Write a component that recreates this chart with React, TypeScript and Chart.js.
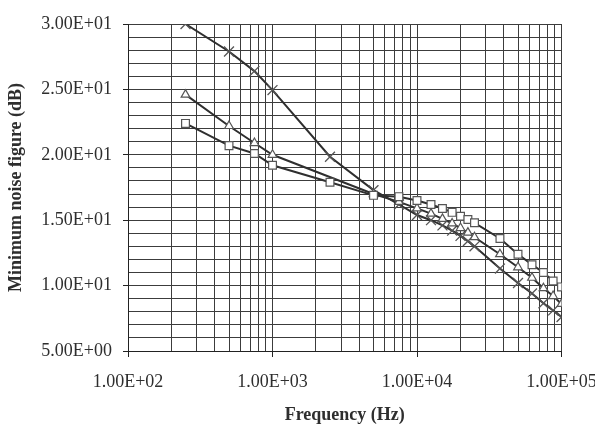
import React, { useEffect, useRef } from 'react';
import { Chart, registerables } from 'chart.js';

Chart.register(...registerables);

// Frequencies (Hz) at which the noise figure was sampled
const frequencies = [250, 500, 750, 1000, 2500, 5000, 7500, 10000, 12500, 15000, 17500, 20000, 22500, 25000, 37500, 50000, 62500, 75000, 87500, 100000];

// Minimum noise figure (dB) for each marker series
const squareNF = [22.4, 20.7, 20.1, 19.2, 17.9, 16.9, 16.8, 16.5, 16.2, 15.9, 15.6, 15.3, 15.05, 14.8, 13.6, 12.4, 11.6, 11.0, 10.35, 9.9];
const triangleNF: (number | null)[] = [24.6, 22.2, 20.9, 20.0, null, 17.0, 16.4, 15.9, 15.5, 15.1, 14.75, 14.4, 14.05, 13.7, 12.4, 11.4, 10.6, 9.8, 9.2, 8.6];
const crossNF = [30.0, 27.9, 26.4, 24.95, 19.85, 17.3, 16.2, 15.4, 15.0, 14.6, 14.2, 13.8, 13.4, 13.0, 11.3, 10.2, 9.4, 8.65, 8.1, 7.6];

// Axis ranges / tick positions
const xMin = 100;
const xMax = 100000;
const xDecades = [100, 1000, 10000];
const xMultipliers = [1, 2, 3, 4, 5, 6, 7, 8, 9];
const yMin = 5;
const yMax = 30;
const yLabelStep = 5;

const SERIF = "'Liberation Serif', 'Times New Roman', serif";
const TEXT = '#2e2e2e';
const GRID = '#3c3c3c';
const AXIS = '#222222';
const LINE = '#2f2f2f';
const MARK = '#555555';

function sci(v: number): string {
  const [m, e] = v.toExponential(2).split('e');
  const n = parseInt(e, 10);
  const sign = n < 0 ? '-' : '+';
  const abs = Math.abs(n);
  return `${m}E${sign}${abs < 10 ? '0' + abs : String(abs)}`;
}

function isPow10(v: number): boolean {
  const l = Math.log10(v);
  return Math.abs(l - Math.round(l)) < 1e-9;
}

const xTickValues: number[] = [];
xDecades.forEach((d) => xMultipliers.forEach((m) => xTickValues.push(d * m)));
xTickValues.push(xMax);

function toPoints(vals: (number | null)[]) {
  return frequencies
    .map((f, i) => ({ x: f, y: vals[i] }))
    .filter((p) => p.y !== null) as { x: number; y: number }[];
}

export default function App() {
  const ref = useRef<HTMLCanvasElement>(null);

  useEffect(() => {
    const canvas = ref.current;
    if (!canvas) return;
    const common = {
      borderColor: LINE,
      borderWidth: 2,
      pointBackgroundColor: '#ffffff',
      pointBorderColor: MARK,
      pointBorderWidth: 1.2,
      tension: 0,
      fill: false,
    };
    const chart = new Chart(canvas, {
      type: 'line',
      data: {
        datasets: [
          { ...common, label: 'square', data: toPoints(squareNF), pointStyle: 'rect', pointRadius: 5.5 },
          { ...common, label: 'triangle', data: toPoints(triangleNF), pointStyle: 'triangle', pointRadius: 5 },
          { ...common, label: 'cross', data: toPoints(crossNF), pointStyle: 'crossRot', pointRadius: 7, pointBorderWidth: 1.3 },
        ],
      },
      options: {
        responsive: false,
        animation: false,
        devicePixelRatio: 1,
        layout: { padding: { left: 0, top: 24, right: 33.5, bottom: 0 } },
        plugins: { legend: { display: false }, tooltip: { enabled: false } },
        scales: {
          x: {
            type: 'logarithmic',
            position: 'bottom',
            min: xMin,
            max: xMax,
            afterBuildTicks: (s: any) => {
              s.ticks = xTickValues.map((v) => ({ value: v, major: isPow10(v) }));
            },
            afterFit: (s: any) => {
              s.height = 75;
              s.paddingLeft = 0;
              s.paddingRight = 0;
            },
            ticks: {
              autoSkip: false,
              maxRotation: 0,
              minRotation: 0,
              padding: 14,
              color: TEXT,
              font: { family: SERIF, size: 18 },
              callback: (v: any) => (isPow10(Number(v)) ? sci(Number(v)) : ''),
            },
            grid: {
              color: GRID,
              lineWidth: 1,
              tickLength: 6,
              tickColor: (c: any) => (c.tick && isPow10(c.tick.value) ? AXIS : 'rgba(0,0,0,0)'),
            },
            border: { color: AXIS, width: 1 },
            title: {
              display: true,
              text: 'Frequency (Hz)',
              color: TEXT,
              font: { family: SERIF, size: 18, weight: 'bold' },
              padding: { top: 0, bottom: 0 },
            },
          },
          y: {
            type: 'linear',
            min: yMin,
            max: yMax,
            afterFit: (s: any) => {
              s.width = 128;
              s.paddingTop = 0;
              s.paddingBottom = 0;
            },
            ticks: {
              stepSize: 1,
              autoSkip: false,
              padding: 11,
              color: TEXT,
              font: { family: SERIF, size: 18 },
              callback: (v: any) => (Number(v) % yLabelStep === 0 ? sci(Number(v)) : ''),
            },
            grid: {
              color: GRID,
              lineWidth: 1,
              tickLength: 5,
              tickColor: (c: any) => (c.tick && c.tick.value % yLabelStep === 0 ? AXIS : 'rgba(0,0,0,0)'),
            },
            border: { color: AXIS, width: 1 },
            title: {
              display: true,
              text: 'Minimum noise figure (dB)',
              color: TEXT,
              font: { family: SERIF, size: 18, weight: 'bold' },
              padding: { top: 6, bottom: 0 },
            },
          },
        },
      } as any,
    });
    return () => chart.destroy();
  }, []);

  return (
    <div style={{ position: 'absolute', left: 0, top: 0, width: 595, height: 426, background: '#ffffff' }}>
      <canvas ref={ref} width={595} height={426} style={{ display: 'block', width: 595, height: 426 }} />
    </div>
  );
}
